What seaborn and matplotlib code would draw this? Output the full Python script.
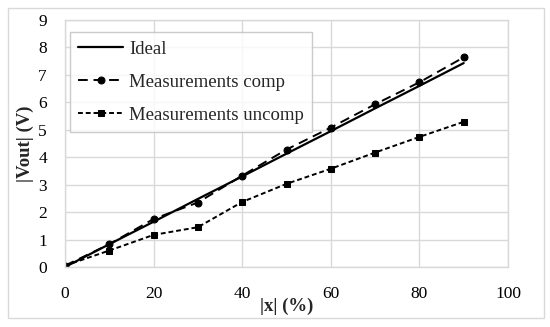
import matplotlib
matplotlib.use("Agg")
import matplotlib.pyplot as plt
import seaborn as sns
import pandas as pd
from matplotlib.patches import Rectangle

x_vals = [0, 10, 20, 30, 40, 50, 60, 70, 80, 90]
ideal = [0.0, 0.83, 1.65, 2.48, 3.30, 4.13, 4.95, 5.78, 6.60, 7.43]
comp = [0.05, 0.83, 1.75, 2.35, 3.33, 4.28, 5.08, 5.93, 6.73, 7.64]
uncomp = [0.05, 0.60, 1.17, 1.45, 2.37, 3.03, 3.58, 4.17, 4.74, 5.29]
labels = ["Ideal", "Measurements comp", "Measurements uncomp"]

sns.set_theme(style="white")
plt.rcParams['font.family'] = ['Liberation Serif', 'DejaVu Serif']

fig = plt.figure(figsize=(5.5, 3.27), dpi=100)
ax = fig.add_axes([65/550, 1-267/327, (508-65)/550, (267-20)/327])

fig.patches.append(Rectangle((8/550, 1-318/327), (544-8)/550, (318-8)/327,
                             transform=fig.transFigure, fill=False,
                             edgecolor="#d9d9d9", linewidth=1.0, zorder=0))

df_i = pd.DataFrame({"x": x_vals, "y": ideal})
df_c = pd.DataFrame({"x": x_vals, "y": comp})
df_u = pd.DataFrame({"x": x_vals, "y": uncomp})

sns.lineplot(data=df_i, x="x", y="y", ax=ax, color="black", linewidth=1.6,
             label=labels[0])
sns.lineplot(data=df_c, x="x", y="y", ax=ax, color="black", linewidth=1.4,
             marker="o", markersize=5, markeredgecolor="black",
             label=labels[1], linestyle=(0, (5, 3)))
sns.lineplot(data=df_u, x="x", y="y", ax=ax, color="black", linewidth=1.4,
             marker="s", markersize=5, markeredgecolor="black",
             label=labels[2], linestyle=(0, (2.5, 1.5)))

ax.set_xlim(0, 100)
ax.set_ylim(0, 9)
ax.set_xticks(range(0, 101, 20))
ax.set_yticks(range(0, 10))
ax.grid(True, color="#d9d9d9", linewidth=1.0)
ax.set_axisbelow(True)
for s in ax.spines.values():
    s.set_color("#d9d9d9")
    s.set_linewidth(1.0)
ax.tick_params(axis="x", labelsize=12.5, length=0, pad=14, colors="black")
ax.tick_params(axis="y", labelsize=12.5, length=0, pad=13, colors="black")
ax.set_xlabel("|x| (%)", fontsize=13.5, fontweight="bold")
ax.xaxis.set_label_coords(0.5, -(298-267)/247)
ax.set_ylabel("|Vout| (V)", fontsize=13.5, fontweight="bold")
ax.yaxis.set_label_coords(-(65-34)/443, 0.5)

leg = ax.legend(loc="upper left", bbox_to_anchor=(5/443, (267-32)/247),
                borderaxespad=0, fontsize=13.5,
                frameon=True, fancybox=False, edgecolor="#bfbfbf",
                handlelength=2.4, borderpad=0.45, labelspacing=0.85,
                handletextpad=0.3)
leg.get_frame().set_linewidth(1.0)

fig.savefig("out.png", dpi=100)
